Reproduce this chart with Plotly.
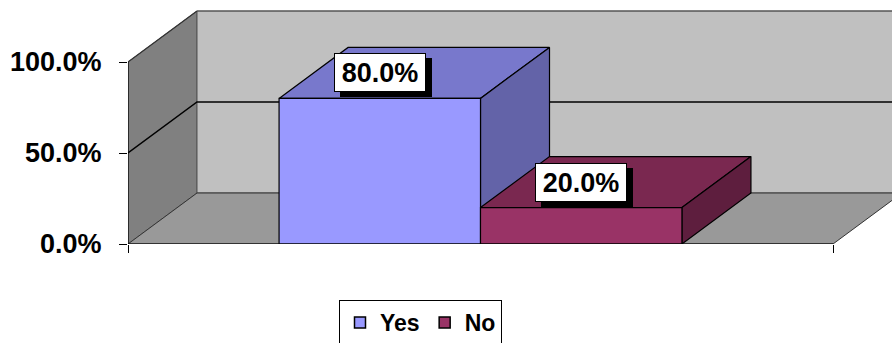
import plotly.graph_objects as go

# ---- data ----
series = ["Yes", "No"]
values = [0.80, 0.20]
tick_vals = [0.0, 0.5, 1.0]

# ---- style ----
front_colors = ["#9999FF", "#993366"]
top_colors = ["#7878CC", "#7A2850"]
side_colors = ["#6363A8", "#5E1E3E"]
FONT = "Liberation Sans, Arial, sans-serif"

BAR_W = 1.0
GAP = 0.75
AX_END = GAP * 2 + BAR_W * len(series)  # 3.5
DX = 0.3426   # depth offset in x units
DY = 0.2802   # depth offset in y units
YMAX = 1.0

fig = go.Figure()

def poly(xs, ys, fill, line="#000000", lw=1.2):
    fig.add_trace(go.Scatter(
        x=xs + [xs[0]], y=ys + [ys[0]], mode="lines", fill="toself",
        fillcolor=fill, line=dict(color=line, width=lw),
        hoverinfo="skip", showlegend=False))

def line(xs, ys, color="#000000", lw=1.5):
    fig.add_trace(go.Scatter(x=xs, y=ys, mode="lines",
                             line=dict(color=color, width=lw),
                             hoverinfo="skip", showlegend=False))

# walls and floor
poly([0, 0, DX, DX], [0, YMAX, YMAX + DY, DY], "#808080", "#555555", 1)
poly([DX, DX, AX_END + DX, AX_END + DX], [DY, YMAX + DY, YMAX + DY, DY],
     "#C0C0C0", "#555555", 1)
poly([0, AX_END, AX_END + DX, DX], [0, 0, DY, DY], "#999999", "#333333", 1)

# gridlines
for t in tick_vals[1:-1]:
    line([0, DX, AX_END + DX], [t, t + DY, t + DY], "#000000", 1.5)
line([0, DX], [YMAX, YMAX + DY], "#333333", 1.2)
line([DX, AX_END + DX], [YMAX + DY, YMAX + DY], "#555555", 1.2)

# bars
for i, (name, v) in enumerate(zip(series, values)):
    x0 = GAP + i * BAR_W
    x1 = x0 + BAR_W
    poly([x0, x1, x1 + DX, x0 + DX], [v, v, v + DY, v + DY], top_colors[i])
    poly([x1, x1 + DX, x1 + DX, x1], [0, DY, v + DY, v], side_colors[i])
    poly([x0, x1, x1, x0], [0, 0, v, v], front_colors[i])
    # legend entry
    fig.add_trace(go.Scatter(
        x=[None], y=[None], mode="markers", name=name,
        marker=dict(symbol="square", size=11, color=front_colors[i],
                    line=dict(color="#000000", width=1.5))))
    # label with shadow
    xc = (x0 + x1) / 2
    yc = v + DY / 2
    lbl = f"{v * 100:.1f}%"
    common = dict(x=xc, y=yc, xref="x", yref="y", showarrow=False,
                  width=86, height=33, borderpad=2, borderwidth=1,
                  font=dict(family=FONT, size=27, color="#000000", weight="bold"))
    fig.add_annotation(text="&nbsp;", bgcolor="#000000", bordercolor="#000000",
                       xshift=6, yshift=-5, **common)
    fig.add_annotation(text=lbl, bgcolor="#FFFFFF", bordercolor="#000000",
                       **common)

# axis lines
line([0, 0], [0, YMAX], "#000000", 1.2)
line([0, AX_END], [0, 0], "#000000", 1.2)

W, H = 892, 343
L, B = 128, 99
px_per_x = (833 - 128) / AX_END
fig.update_layout(
    width=W, height=H,
    margin=dict(l=L, r=0, t=0, b=B, autoexpand=False),
    paper_bgcolor="#FFFFFF", plot_bgcolor="rgba(0,0,0,0)",
    font=dict(family=FONT, color="#000000"),
    xaxis=dict(range=[0, (W - L) / px_per_x], showgrid=False, zeroline=False,
               showline=False, tickvals=[0, AX_END], ticks="outside",
               ticklen=8, tickcolor="#000000", showticklabels=False,
               fixedrange=True, automargin=False),
    yaxis=dict(range=[0, (H - B) / 182.0], showgrid=False, zeroline=False,
               showline=False, tickvals=tick_vals, tickformat=".1%",
               ticks="outside", ticklen=8, tickcolor="#000000",
               ticklabelstandoff=12,
               tickfont=dict(family=FONT, size=27, weight="bold"),
               fixedrange=True, automargin=False),
    showlegend=True,
    legend=dict(orientation="h", x=(420.5 - L) / (W - L), xanchor="center",
                y=(244 - 300) / 244, yanchor="top",
                bordercolor="#000000", borderwidth=1, bgcolor="#FFFFFF",
                itemwidth=30,
                font=dict(family=FONT, size=23, weight="bold")),
)

fig.write_html("out.html")
